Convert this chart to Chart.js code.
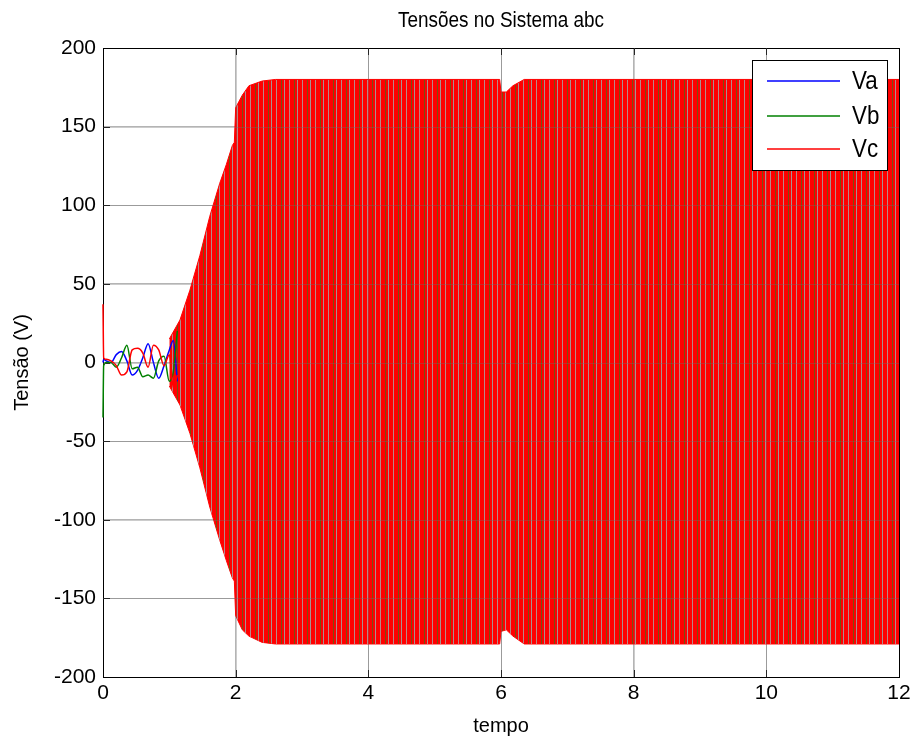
<!DOCTYPE html>
<html>
<head>
<meta charset="utf-8">
<title>Tensões no Sistema abc</title>
<script src="https://cdn.jsdelivr.net/npm/chart.js@4/dist/chart.umd.min.js"></script>
<style>
  body { margin: 0; background: #fff; }
  canvas { display: block; }
</style>
</head>
<body>
<canvas id="myChart" width="917" height="742"></canvas>
<script>
// series names / colours
var seriesNames = ['Va', 'Vb', 'Vc'];
var seriesColors = ['#0000ff', '#008000', '#ff0000'];

// start-up transient (tempo, volts)
var tEarly  = [0, 0.01, 0.05, 0.12, 0.2, 0.28, 0.36, 0.44, 0.52, 0.6, 0.68, 0.76, 0.84, 0.92, 1.0, 1.06, 1.12];
var vaEarly = [0, 2, 1, 0, 5, 7, 1, -8, -5, 3, 12, 0, -10, -2, 8, 14, -12];
var vbEarly = [-35, -2, 0, 0, -3, 3, 11, -4, -3, -9, -8, -10, 1, 4, -12, -6, 20];
var vcEarly = [37, 3, 2, 1, -2, -8, -6, 8, 9, 6, -3, 11, 8, -2, 5, -16, -8];

// envelope of the fast oscillation (the solid red block)
var tEnv     = [1.0, 1.16, 1.31, 1.46, 1.61, 1.76, 1.86, 1.95, 1.98, 2.0, 2.1, 2.2, 2.4, 2.6, 5.98, 6.0, 6.08, 6.18, 6.35, 12];
var envUpper = [15, 27, 46, 68, 93, 114, 126, 138, 140, 162, 170, 176, 179, 180, 180, 172, 172, 176, 180, 180];
var envLower = [-15, -27, -45, -67, -92, -113, -126, -137, -139, -161, -170, -174, -178, -179, -179, -171, -170, -174, -179, -179];

// axis ticks
var xTicks = [0, 2, 4, 6, 8, 10, 12];
var yTicks = [-200, -150, -100, -50, 0, 50, 100, 150, 200];

var FONT = "'Liberation Sans', Arial, sans-serif";

function toPoints(xs, ys) {
  var pts = [];
  for (var i = 0; i < xs.length; i++) {
    pts.push({ x: xs[i], y: ys[i] });
  }
  return pts;
}

// striped red texture so the dense block looks like the original
function makeStripes() {
  var c = document.createElement('canvas');
  c.width = 13; c.height = 1;
  var g = c.getContext('2d');
  var cols = ['#ff0000', '#ff0000', '#ff0000', '#b88888', '#ff0000', '#ff0000', '#ff0000',
    '#ff0000', '#7a5010', '#ff0000', '#ff0000', '#a89090', '#ff0000'];
  for (var i = 0; i < cols.length; i++) {
    g.fillStyle = cols[i];
    g.fillRect(i, 0, 1, 1);
  }
  return g.createPattern(c, 'repeat');
}

// text squeezed a bit, matlab export looks tall and narrow
function narrowText(ctx, txt, x, y, size, align) {
  ctx.save();
  ctx.font = size + 'px ' + FONT;
  ctx.textAlign = align;
  ctx.textBaseline = 'middle';
  ctx.translate(x, y);
  ctx.scale(0.86, 1);
  ctx.fillText(txt, 0, 0);
  ctx.restore();
}

var matlabFrame = {
  id: 'matlabFrame',
  beforeDatasetsDraw: function(chart) {
    var ctx = chart.ctx;
    var a = chart.chartArea;
    var xs = chart.scales.x, ys = chart.scales.y;
    ctx.save();
    // box + inward ticks (under the traces, like matlab)
    ctx.strokeStyle = '#000';
    ctx.lineWidth = 1;
    ctx.strokeRect(Math.round(a.left) + 0.5, Math.round(a.top) + 0.5,
      Math.round(a.right - a.left), Math.round(a.bottom - a.top));
    var tl = 7;
    xTicks.forEach(function(v) {
      var px = Math.round(xs.getPixelForValue(v)) + 0.5;
      ctx.beginPath();
      ctx.moveTo(px, a.bottom); ctx.lineTo(px, a.bottom - tl);
      ctx.moveTo(px, a.top); ctx.lineTo(px, a.top + tl);
      ctx.stroke();
    });
    yTicks.forEach(function(v) {
      var py = Math.round(ys.getPixelForValue(v)) + 0.5;
      ctx.beginPath();
      ctx.moveTo(a.left, py); ctx.lineTo(a.left + tl, py);
      ctx.moveTo(a.right, py); ctx.lineTo(a.right - tl, py);
      ctx.stroke();
    });
    ctx.restore();
  },
  afterDatasetsDraw: function(chart) {
    var ctx = chart.ctx;
    var a = chart.chartArea;
    var xs = chart.scales.x, ys = chart.scales.y;
    ctx.save();
    // inner grid faintly over the data
    ctx.strokeStyle = 'rgba(110,110,110,0.35)';
    ctx.lineWidth = 1;
    xTicks.slice(1, -1).forEach(function(v) {
      var px = Math.round(xs.getPixelForValue(v)) + 0.5;
      ctx.beginPath(); ctx.moveTo(px, a.top); ctx.lineTo(px, a.bottom); ctx.stroke();
    });
    yTicks.slice(1, -1).forEach(function(v) {
      var py = Math.round(ys.getPixelForValue(v)) + 0.5;
      ctx.beginPath(); ctx.moveTo(a.left, py); ctx.lineTo(a.right, py); ctx.stroke();
    });
    ctx.restore();
  },
  afterDraw: function(chart) {
    var ctx = chart.ctx;
    var a = chart.chartArea;
    ctx.save();
    ctx.fillStyle = '#000';
    // title
    narrowText(ctx, 'Tensões no Sistema abc', (a.left + a.right) / 2, 21, 22, 'center');

    // legend box, top right
    var bx = 752.5, by = 60.5, bw = 135, bh = 110;
    ctx.fillStyle = '#fff';
    ctx.fillRect(bx, by, bw, bh);
    ctx.strokeStyle = '#000';
    ctx.lineWidth = 1;
    ctx.strokeRect(bx, by, bw, bh);
    var rows = [81, 116, 149];
    for (var i = 0; i < seriesNames.length; i++) {
      ctx.strokeStyle = seriesColors[i];
      ctx.lineWidth = 1.5;
      ctx.beginPath();
      ctx.moveTo(767, rows[i]); ctx.lineTo(840, rows[i]);
      ctx.stroke();
      ctx.fillStyle = '#000';
      narrowText(ctx, seriesNames[i], 852, rows[i] + 1, 26, 'left');
    }
    ctx.restore();
  }
};

var ctx = document.getElementById('myChart').getContext('2d');
var stripes = makeStripes();

var chart = new Chart(ctx, {
  type: 'line',
  data: {
    datasets: [
      {
        label: seriesNames[2],
        data: toPoints(tEarly, vcEarly),
        borderColor: seriesColors[2],
        borderWidth: 1.5,
        cubicInterpolationMode: 'monotone',
        clip: false,
        order: 1
      },
      {
        label: seriesNames[1],
        data: toPoints(tEarly, vbEarly),
        borderColor: seriesColors[1],
        borderWidth: 1.5,
        cubicInterpolationMode: 'monotone',
        clip: false,
        order: 2
      },
      {
        label: seriesNames[0],
        data: toPoints(tEarly, vaEarly),
        borderColor: seriesColors[0],
        borderWidth: 1.5,
        cubicInterpolationMode: 'monotone',
        clip: false,
        order: 3
      },
      {
        label: 'Vc env+',
        data: toPoints(tEnv, envUpper),
        borderColor: '#ff0000',
        borderWidth: 1,
        backgroundColor: stripes,
        fill: '+1',
        order: 4
      },
      {
        label: 'Vc env-',
        data: toPoints(tEnv, envLower),
        borderColor: '#ff0000',
        borderWidth: 1,
        fill: false,
        order: 5
      }
    ]
  },
  options: {
    responsive: false,
    animation: false,
    layout: { padding: { top: 48, right: 18, bottom: 0, left: 0 } },
    elements: {
      point: { radius: 0 },
      line: { tension: 0 }
    },
    plugins: {
      legend: { display: false },
      tooltip: { enabled: false }
    },
    scales: {
      x: {
        type: 'linear',
        min: 0,
        max: 12,
        afterBuildTicks: function(s) { s.ticks = xTicks.map(function(v) { return { value: v }; }); },
        afterFit: function(s) { s.height = 65; },
        ticks: { color: '#000', font: { size: 21, family: FONT }, padding: 4, maxRotation: 0 },
        grid: { color: '#b4b4b4', drawTicks: false },
        border: { color: '#000' },
        title: { display: true, text: 'tempo', color: '#000', font: { size: 20, family: FONT }, padding: { top: 0, bottom: 4 } }
      },
      y: {
        min: -200,
        max: 200,
        afterBuildTicks: function(s) { s.ticks = yTicks.map(function(v) { return { value: v }; }); },
        afterFit: function(s) { s.width = 103; },
        ticks: { color: '#000', font: { size: 21, family: FONT }, padding: 7 },
        grid: { color: '#b4b4b4', drawTicks: false },
        border: { color: '#000' },
        title: { display: true, text: 'Tensão (V)', color: '#000', font: { size: 20, family: FONT }, padding: { top: 10, bottom: 0 } }
      }
    }
  },
  plugins: [matlabFrame]
});
</script>
</body>
</html>
